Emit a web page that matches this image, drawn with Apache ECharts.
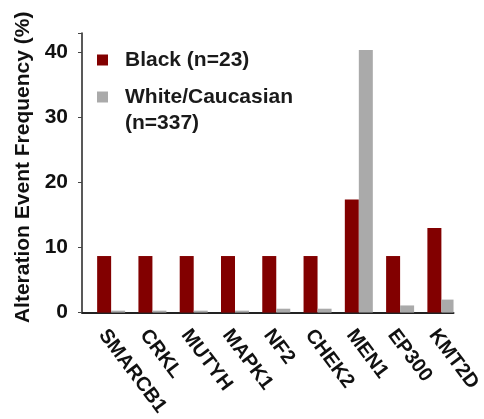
<!DOCTYPE html>
<html>
<head>
<meta charset="utf-8">
<script src="https://cdn.jsdelivr.net/npm/echarts@6/dist/echarts.min.js"></script>
<style>
  html, body { margin: 0; padding: 0; background: #fff; }
  #chart { width: 484px; height: 419px; }
</style>
</head>
<body>
<div id="chart"></div>
<script>
// 基因类别
const genes = ['SMARCB1', 'CRKL', 'MUTYH', 'MAPK1', 'NF2', 'CHEK2', 'MEN1', 'EP300', 'KMT2D'];
// 各人群的突变频率 (%)
const blackValues = [8.7, 8.7, 8.7, 8.7, 8.7, 8.7, 17.4, 8.7, 13.0];
const whiteValues = [0.3, 0.3, 0.3, 0.3, 0.6, 0.6, 40.4, 1.1, 2.0];
const blackName = 'Black (n=23)';
const whiteName = 'White/Caucasian\n(n=337)';
const yTicks = [0, 10, 20, 30, 40];

const FONT = '"Liberation Sans", Arial, sans-serif';
const chart = echarts.init(document.getElementById('chart'));

const legendText = {
  fontFamily: FONT, fontWeight: 'bold', fontSize: 21, color: '#1a1a1a',
  lineHeight: 26, padding: [0, 0, 0, 12]
};

const option = {
  animation: false,
  grid: { left: 82, right: 28, top: 33, bottom: 106 },
  legend: [
    {
      left: 97, top: 47, padding: 0,
      itemWidth: 11, itemHeight: 11, icon: 'rect',
      data: [blackName],
      textStyle: legendText
    },
    {
      left: 97, top: 58, padding: 0,
      itemWidth: 11, itemHeight: 11, icon: 'rect',
      data: [whiteName],
      // 前面加一个空行，让图标和第一行文字对齐
      formatter: name => '\n' + name,
      textStyle: legendText
    }
  ],
  xAxis: {
    type: 'category',
    data: genes,
    axisLine: { lineStyle: { color: '#222', width: 2 } },
    axisTick: { show: false },
    axisLabel: {
      rotate: -53, margin: 19, interval: 0,
      fontFamily: FONT, fontWeight: 'bold', fontSize: 20, color: '#111'
    }
  },
  yAxis: {
    type: 'value',
    min: 0, max: 43, interval: 10,
    name: 'Alteration Event Frequency (%)',
    nameLocation: 'middle', nameRotate: 90, nameGap: 47,
    nameTextStyle: { fontFamily: FONT, fontWeight: 'bold', fontSize: 21, color: '#111', padding: [0, 0, 0, 11] },
    axisLine: { show: true, lineStyle: { color: '#222', width: 1.5 } },
    axisTick: { show: true, length: 4, lineStyle: { color: '#444' } },
    splitLine: { show: false },
    axisLabel: {
      margin: 14,
      fontFamily: FONT, fontWeight: 'bold', fontSize: 21, color: '#111',
      formatter: v => (yTicks.indexOf(v) >= 0 ? String(v) : '')
    }
  },
  series: [
    // 空系列，仅用于把柱子整体右移
    { name: 'pad', type: 'bar', data: [], barWidth: 17, barGap: 0, silent: true },
    { name: blackName, type: 'bar', data: blackValues, barWidth: 14, barGap: 0, itemStyle: { color: '#820000' } },
    { name: whiteName, type: 'bar', data: whiteValues, barWidth: 14, barGap: 0, itemStyle: { color: '#aaaaaa' } }
  ]
};

chart.setOption(option);
</script>
</body>
</html>
